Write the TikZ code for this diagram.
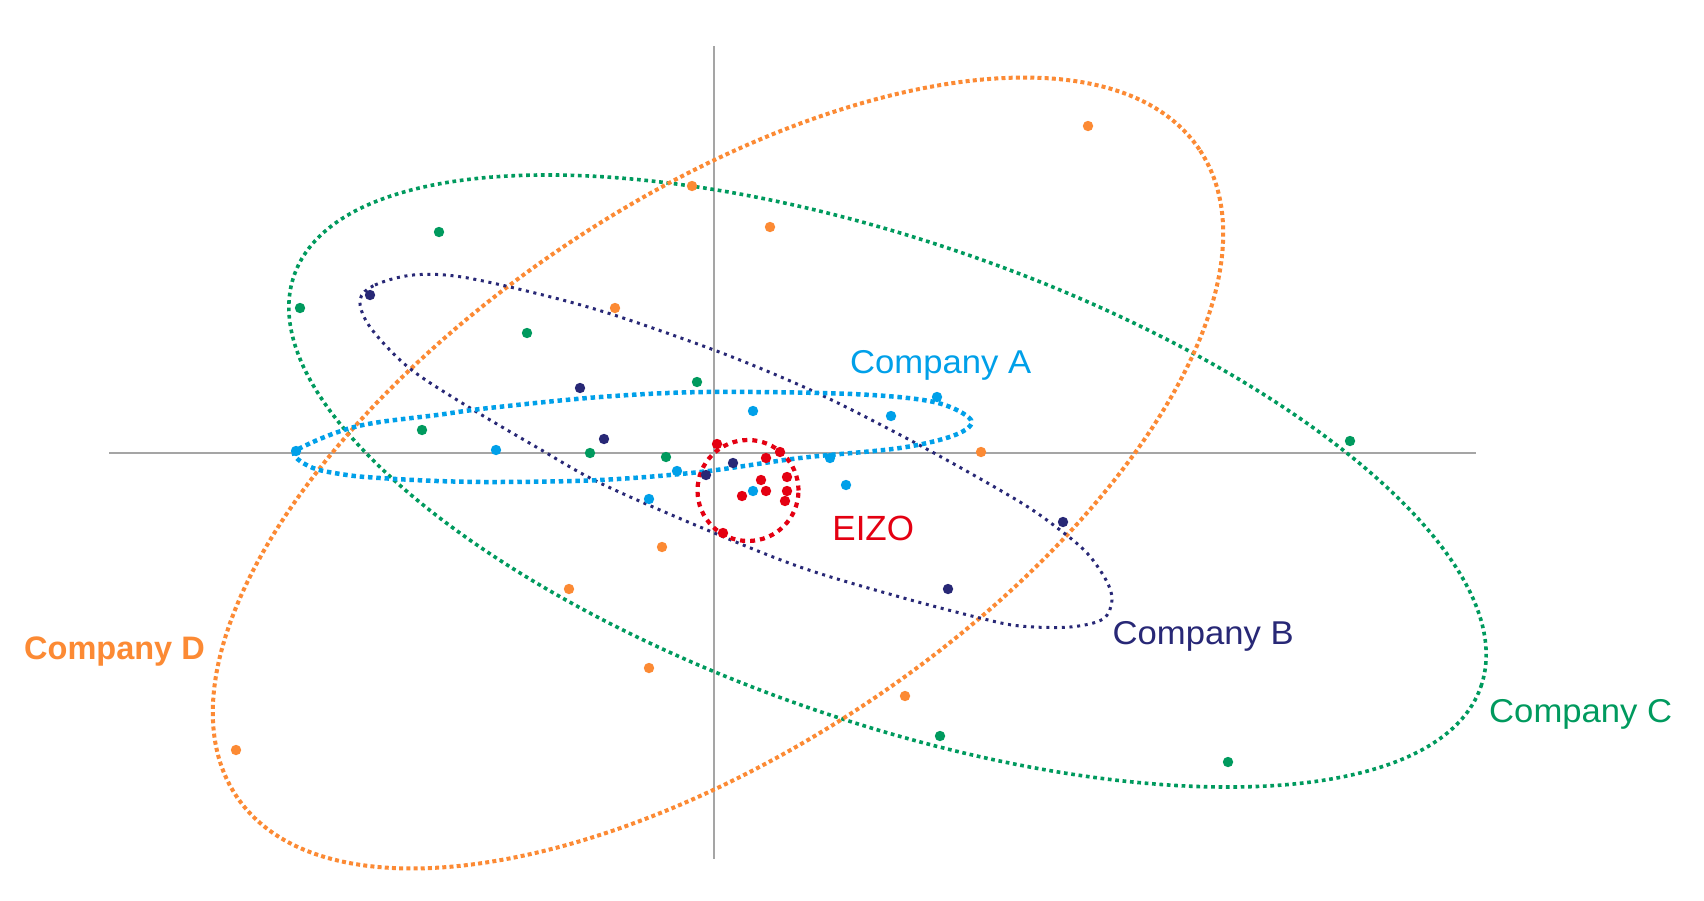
\documentclass[tikz,border=0pt]{standalone}
\usepackage{fontspec}
\setmainfont{Liberation Sans}
\newfontfamily\lblfont[FakeStretch=1.05]{Liberation Sans}
\definecolor{cA}{RGB}{0,160,233}
\definecolor{cB}{RGB}{40,40,118}
\definecolor{cC}{RGB}{0,154,94}
\definecolor{cD}{RGB}{252,138,52}
\definecolor{cE}{RGB}{228,0,18}
\definecolor{axisgray}{RGB}{165,165,165}
\begin{document}
\begin{tikzpicture}[x=1pt,y=-1pt,
  axisline/.style={draw=axisgray,line width=2.6pt},
  curveA/.style={draw=cA,line width=4.5pt,dash pattern=on 4.5pt off 3.8pt},
  curveB/.style={draw=cB,line width=3pt,dash pattern=on 3pt off 4.7pt},
  curveC/.style={draw=cC,line width=3.6pt,dash pattern=on 3.7pt off 3.7pt},
  curveD/.style={draw=cD,line width=4pt,dash pattern=on 4pt off 3.2pt},
  curveE/.style={draw=cE,line width=4.2pt,dash pattern=on 5pt off 5pt},
  lbl/.style={anchor=base west,inner sep=0pt,font=\lblfont\fontsize{33}{36}\selectfont},
  lblbold/.style={anchor=base west,inner sep=0pt,font=\bfseries\fontsize{32.5}{36}\selectfont},
  lbleizo/.style={anchor=base west,inner sep=0pt,font=\fontsize{35}{38}\selectfont}
]
\useasboundingbox (0,0) rectangle (1704,900);
\fill[white] (0,0) rectangle (1704,900);

% axes
\coordinate (xl) at (109,453);
\coordinate (xr) at (1476,453);
\coordinate (yt) at (714,46);
\coordinate (yb) at (714,859);
\draw[axisline] (xl) -- (xr);
\draw[axisline] (yt) -- (yb);

% Company C (green)
\draw[curveC, shift={(887.5,481)}, rotate=-19.1] (0,0) ellipse [x radius=628pt, y radius=240pt];

% Company D (orange)
\draw[curveD, shift={(718,473)}, rotate=33.9] (0,0) ellipse [x radius=580pt, y radius=274pt];

% Company B (navy)
\draw[curveB] plot[smooth cycle, tension=0.55] coordinates {
 (360,300) (375,285) (413,275) (462,277) (543,295) (614,315) (714,350) (788,380)
 (848,408) (934,453) (1020,502) (1060,530) (1087,553) (1106,580) (1112,600)
 (1103,619) (1070,627) (1020,626) (980,618) (900,597) (800,567) (700,527)
 (600,483) (538,448) (462,403) (408,367) (370,327)};

% Company A (blue)
\draw[curveA] plot[smooth cycle, tension=0.55] coordinates {
 (294,454) (313,442) (347,429) (380,422) (437,415) (489,408) (600,397) (706,392)
 (852,394) (934,402) (971,420) (955,435) (900,448) (800,458) (700,472) (600,480)
 (500,482) (437,481) (380,478) (347,475) (313,468)};

% EIZO circle
\coordinate (ec) at (748,490.5);
\draw[curveE] (ec) circle (50.5pt);

% dots
\foreach \x/\y in {296/451,496/450,649/499,677/471,753/411,753/491,830/458,846/485,891/416,937/397}
  \fill[cA] (\x,\y) circle (5.2pt);
\foreach \x/\y in {439/232,300/308,527/333,697/382,422/430,590/453,666/457,1350/441,940/736,1228/762}
  \fill[cC] (\x,\y) circle (5.2pt);
\foreach \x/\y in {1088/126,692/186,770/227,615/308,981/452,662/547,569/589,649/668,905/696,236/750}
  \fill[cD] (\x,\y) circle (5.2pt);
\foreach \x/\y in {370/295,580/388,604/439,706/475,733/463,1063/522,948/589}
  \fill[cB] (\x,\y) circle (5.2pt);
\foreach \x/\y in {717/444,780/452,766/458,761/480,787/477,766/491,742/496,787/491,785/501,723/533}
  \fill[cE] (\x,\y) circle (5.2pt);

% labels
\node[lbl,text=cA] (labA) at (850,373.3) {Company A};
\node[lbl,text=cB] (labB) at (1112.5,644) {Company B};
\node[lbl,text=cC] (labC) at (1489,722.7) {Company C};
\node[lblbold,text=cD] (labD) at (24,659.3) {Company D};
\node[lbleizo,text=cE] (labE) at (832.2,540.5) {EIZO};
\end{tikzpicture}
\end{document}
